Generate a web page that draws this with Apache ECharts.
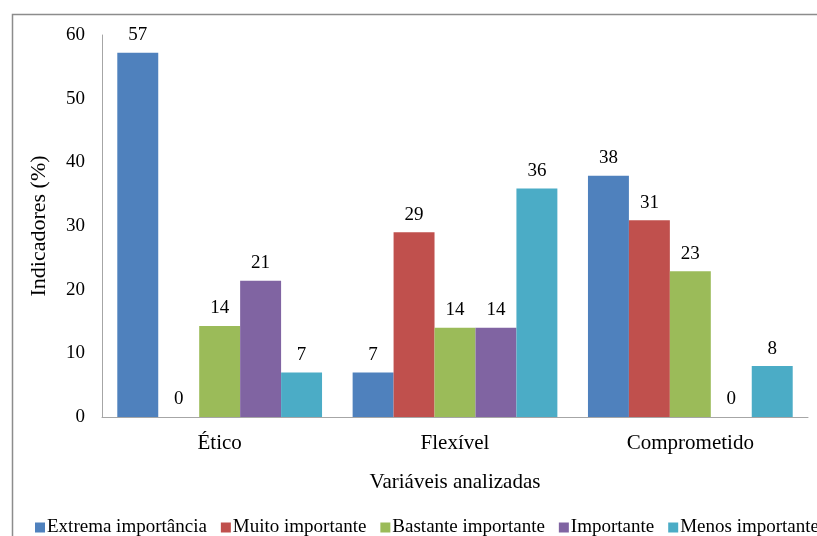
<!DOCTYPE html>
<html><head><meta charset="utf-8">
<script src="https://cdn.jsdelivr.net/npm/echarts@6/dist/echarts.min.js"></script>
<style>html,body{margin:0;padding:0;background:#fff}#c{width:817px;height:536px}</style>
</head><body><div id="c"></div>
<script>
const categories = ['Ético', 'Flexível', 'Comprometido'];
const seriesNames = ['Extrema importância', 'Muito importante', 'Bastante importante', 'Importante', 'Menos importante'];
const extrema = [57.2, 7.0, 37.9];
const muito = [0, 29.0, 30.9];
const bastante = [14.3, 14.0, 22.9];
const importante = [21.4, 14.0, 0];
const menos = [7.0, 35.9, 8.0];
const yTicks = [0, 10, 20, 30, 40, 50, 60];
const colors = ['#4F81BD', '#C0504D', '#9BBB59', '#8064A2', '#4BACC6'];
const values = [extrema, muito, bastante, importante, menos];
const font = '"Liberation Serif", "DejaVu Serif", serif';
const chart = echarts.init(document.getElementById('c'));
chart.setOption({
  animation: false,
  textStyle: {fontFamily: font},
  graphic: [{type: 'rect', shape: {x: 12.5, y: 14.5, width: 900, height: 700}, style: {fill: 'none', stroke: '#8c8c8c', lineWidth: 1.5}, silent: true, z: -10}],
  grid: {left: 102, right: 9, top: 35, bottom: 119},
  legend: {
    left: 30, top: 513, width: 1000, itemWidth: 10, itemHeight: 10, itemGap: 14, icon: 'rect',
    textStyle: {fontFamily: font, fontSize: 19, color: '#000', padding: [0,0,0,-3]},
    data: seriesNames
  },
  xAxis: {
    type: 'category', data: categories,
    axisLine: {lineStyle: {color: '#a6a6a6', width: 1}},
    axisTick: {show: false},
    axisLabel: {fontFamily: font, fontSize: 21, color: '#000', margin: 16},
    name: 'Variáveis analizadas', nameLocation: 'middle', nameGap: 55,
    nameTextStyle: {fontFamily: font, fontSize: 21, color: '#000'}
  },
  yAxis: {
    type: 'value', min: 0, max: 60, interval: 10,
    axisLine: {show: true, lineStyle: {color: '#a6a6a6', width: 1}},
    axisTick: {show: false},
    splitLine: {show: false},
    axisLabel: {fontFamily: font, fontSize: 19, color: '#000', margin: 17,
      formatter: v => yTicks.includes(v) ? String(v) : ''},
    name: 'Indicadores (%)', nameLocation: 'middle', nameGap: 52,
    nameTextStyle: {fontFamily: font, fontSize: 22, color: '#000'}
  },
  series: seriesNames.map((n, i) => ({
    name: n, type: 'bar', data: values[i],
    barGap: '0%', barCategoryGap: '13%',
    itemStyle: {color: colors[i]},
    label: {show: true, position: 'top', distance: 8, fontFamily: font, fontSize: 19, color: '#000',
      formatter: p => String(Math.round(p.value))}
  }))
});
</script></body></html>
